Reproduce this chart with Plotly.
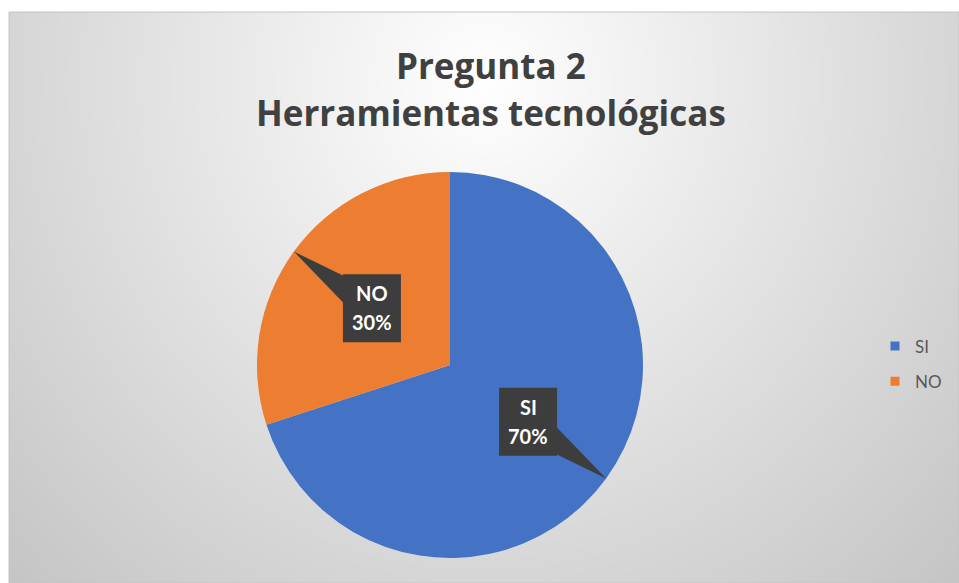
import math, zlib, struct, base64
import numpy as np
import plotly.graph_objects as go

# ---------------- data ----------------
categories = ["SI", "NO"]
values = [70, 30]
slice_colors = ["#4472C4", "#ED7D31"]
title_lines = ["Pregunta 2", "Herramientas tecnológicas"]

# ---------------- layout constants ----------------
W, H = 959, 583
CX, CY, R = 450, 365, 193          # pie centre / radius in pixels
BG_X0, BG_Y0 = 9, 12               # chart area top-left (white margin outside)
FONT = "Lato"
TITLE_FONT = "Open Sans"

def px(x):
    return x / W

def py(y):
    return 1 - y / H

# ---------------- radial gradient background (PNG data uri) ----------------
def gradient_png(w, h):
    yy, xx = np.mgrid[0:h, 0:w].astype(float)
    dx = (xx - w / 2) / (w / 2)
    dy = (yy - 70) / 500.0
    d = np.sqrt(dx ** 2 + dy ** 2)
    c = np.clip(255 - 41 * d, 0, 255).astype(np.uint8)
    raw = b"".join(b"\x00" + c[r].tobytes() for r in range(h))

    def chunk(tag, data):
        return struct.pack(">I", len(data)) + tag + data + struct.pack(">I", zlib.crc32(tag + data) & 0xffffffff)

    png = b"\x89PNG\r\n\x1a\n"
    png += chunk(b"IHDR", struct.pack(">IIBBBBB", w, h, 8, 0, 0, 0, 0))
    png += chunk(b"IDAT", zlib.compress(raw, 9))
    png += chunk(b"IEND", b"")
    return "data:image/png;base64," + base64.b64encode(png).decode()

bg_w, bg_h = W - BG_X0, H - BG_Y0
bg_src = gradient_png(bg_w, bg_h)

fig = go.Figure()

fig.add_trace(go.Pie(
    labels=categories, values=values,
    marker=dict(colors=slice_colors),
    sort=False, direction="clockwise", rotation=0,
    textinfo="none", hoverinfo="label+percent",
    showlegend=False,
    domain=dict(x=[px(CX - R), px(CX + R)], y=[py(CY + R), py(CY - R)]),
))

# legend entries
for i, (lab, col) in enumerate(zip(categories, slice_colors)):
    fig.add_trace(go.Scatter(
        x=[None], y=[None], mode="markers", name=lab,
        marker=dict(symbol="square", size=9, color=col),
        legendgroup=lab, showlegend=True, hoverinfo="skip",
    ))

shapes = []
annotations = []

# callout labels
total = sum(values)
cum = 0
BOX_W, BOX_H = 58, 68
for lab, v in zip(categories, values):
    mid = 90 - 360 * (cum + v / 2) / total
    cum += v
    a = math.radians(mid)
    tipx, tipy = CX + R * math.cos(a), CY - R * math.sin(a)
    bx, by = CX + 0.5 * R * math.cos(a), CY - 0.5 * R * math.sin(a)
    ux, uy = tipx - bx, tipy - by
    L = math.hypot(ux, uy)
    ux, uy = ux / L, uy / L
    nx, ny = -uy, ux
    hw = 17
    p1 = (bx + hw * nx, by + hw * ny)
    p2 = (bx - hw * nx, by - hw * ny)
    path = "M {} {} L {} {} L {} {} Z".format(
        px(p1[0]), py(p1[1]), px(tipx), py(tipy), px(p2[0]), py(p2[1]))
    shapes.append(dict(type="path", path=path, xref="paper", yref="paper",
                       fillcolor="#3d3d3d", line=dict(width=0), layer="above"))
    shapes.append(dict(type="rect", xref="paper", yref="paper",
                       x0=px(bx - BOX_W / 2), x1=px(bx + BOX_W / 2),
                       y0=py(by + BOX_H / 2), y1=py(by - BOX_H / 2),
                       fillcolor="#3d3d3d", line=dict(width=0), layer="above"))
    pct = "{}%".format(round(100 * v / total))
    for txt, off in ((lab, -15), (pct, 14)):
        annotations.append(dict(
            text="<b>{}</b>".format(txt), x=px(bx), y=py(by + off),
            xref="paper", yref="paper", showarrow=False,
            xanchor="center", yanchor="middle",
            font=dict(family=FONT, size=20, color="#ffffff")))

# title lines
for txt, yc in zip(title_lines, (65, 112)):
    annotations.append(dict(
        text="<b>{}</b>".format(txt), x=px(491), y=py(yc),
        xref="paper", yref="paper", showarrow=False,
        xanchor="center", yanchor="middle",
        font=dict(family=TITLE_FONT, size=35, color="#404040")))

# chart area border
shapes.append(dict(type="rect", xref="paper", yref="paper",
                   x0=px(BG_X0), x1=1, y0=0, y1=py(BG_Y0),
                   line=dict(color="#c4c4c4", width=1), fillcolor="rgba(0,0,0,0)",
                   layer="below"))

fig.update_layout(
    width=W, height=H,
    margin=dict(l=0, r=0, t=0, b=0),
    paper_bgcolor="#ffffff", plot_bgcolor="rgba(0,0,0,0)",
    xaxis=dict(visible=False), yaxis=dict(visible=False),
    images=[dict(source=bg_src, xref="paper", yref="paper",
                 x=px(BG_X0), y=py(BG_Y0), sizex=bg_w / W, sizey=bg_h / H,
                 xanchor="left", yanchor="top", sizing="stretch", layer="below")],
    shapes=shapes,
    annotations=annotations,
    legend=dict(x=px(875), y=py(364), xanchor="left", yanchor="middle",
                bgcolor="rgba(0,0,0,0)", font=dict(family=FONT, size=17, color="#595959"),
                tracegroupgap=10, itemwidth=30),
    showlegend=True,
)

fig.write_html("out.html", config={"displayModeBar": False},
               post_script="document.body.style.margin='0px';")
